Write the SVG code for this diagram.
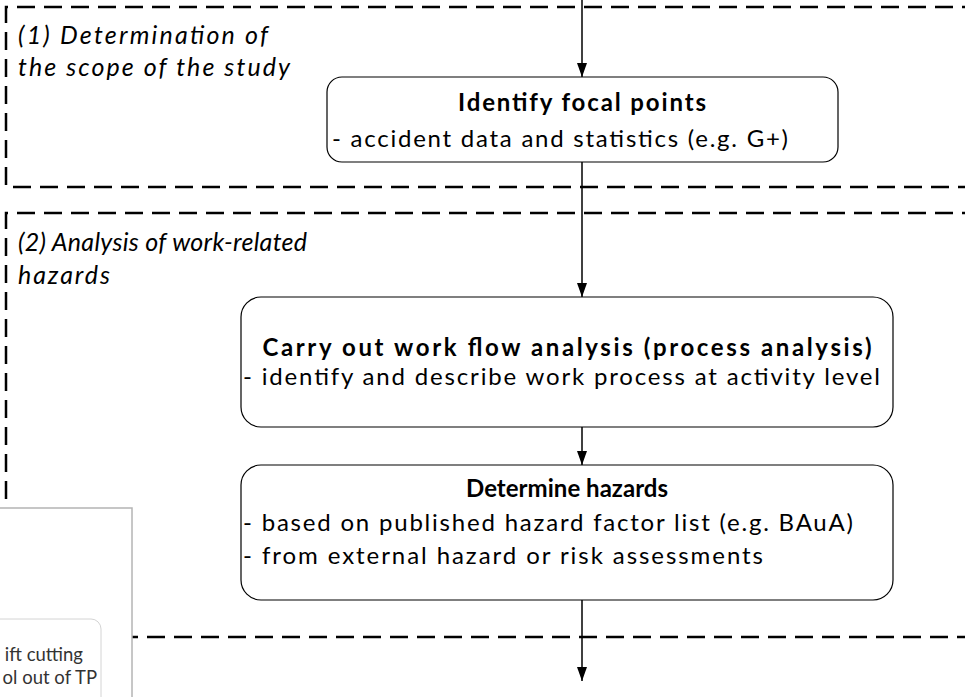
<svg xmlns="http://www.w3.org/2000/svg" width="965" height="697" viewBox="0 0 965 697">
<defs>
<style>
.sec{fill:none;stroke:#000;stroke-width:2.5;stroke-dasharray:18 9}
.box{fill:#fff;stroke:#000;stroke-width:1.2}
.con{fill:none;stroke:#000;stroke-width:1.5}
.lbl{font-family:Lato,"Liberation Sans",sans-serif;font-style:italic;font-size:25px;fill:#000}
.ttl{font-family:Lato,"Liberation Sans",sans-serif;font-weight:bold;font-size:24px;fill:#000}
.txt{font-family:Lato,"Liberation Sans",sans-serif;font-size:24px;fill:#000}
.ov{font-family:Lato,"Liberation Sans",sans-serif;font-size:18.5px;fill:#333}
</style>
<marker id="ah" viewBox="0 0 14 10" refX="14" refY="5" markerWidth="14" markerHeight="10" markerUnits="userSpaceOnUse" orient="auto">
<path d="M0,0 L14,5 L0,10 z" fill="#000"/>
</marker>
</defs>
<rect width="965" height="697" fill="#fff"/>
<g id="section1">
<path class="sec" d="M980,7 H6 V187 H980"/>
<text class="lbl" x="18" y="44" textLength="250">(1) Determination of</text>
<text class="lbl" x="18" y="76" textLength="272">the scope of the study</text>
</g>
<g id="section2">
<path class="sec" d="M980,213 H6 V637 H980"/>
<text class="lbl" x="18" y="251" textLength="289">(2) Analysis of work-related</text>
<text class="lbl" x="18" y="284" textLength="92">hazards</text>
</g>
<g id="connectors">
<line class="con" x1="582" y1="0" x2="582" y2="77" marker-end="url(#ah)"/>
<line class="con" x1="582" y1="162" x2="582" y2="297" marker-end="url(#ah)"/>
<line class="con" x1="582" y1="427" x2="582" y2="465" marker-end="url(#ah)"/>
<line class="con" x1="582" y1="600" x2="582" y2="681" marker-end="url(#ah)"/>
</g>
<g id="focal">
<rect class="box" x="327" y="77" width="511" height="85" rx="15"/>
<text class="ttl" x="582" y="111" text-anchor="middle" textLength="248">Identify focal points</text>
<text class="txt" x="332" y="147" textLength="456">- accident data and statistics (e.g. G+)</text>
</g>
<g id="workflow">
<rect class="box" x="241" y="297" width="652" height="130" rx="20"/>
<text class="ttl" x="567" y="356" text-anchor="middle" textLength="609">Carry out work flow analysis (process analysis)</text>
<text class="txt" x="243" y="385" textLength="637">- identify and describe work process at activity level</text>
</g>
<g id="hazards">
<rect class="box" x="241" y="465" width="652" height="135" rx="20"/>
<text class="ttl" x="567" y="497" text-anchor="middle" textLength="202">Determine hazards</text>
<text class="txt" x="243" y="531" textLength="610">- based on published hazard factor list (e.g. BAuA)</text>
<text class="txt" x="243" y="564" textLength="520">- from external hazard or risk assessments</text>
</g>
<g id="overlay">
<rect x="-2" y="508" width="134" height="200" fill="#fff" stroke="#b4b4b4" stroke-width="1.5"/>
<rect x="-60" y="619" width="161" height="100" rx="10" fill="#fff" stroke="#d4d4d4" stroke-width="1"/>
<text class="ov" x="83" y="661" text-anchor="end">ift cutting</text>
<text class="ov" x="97" y="684" text-anchor="end">ol out of TP</text>
</g>
</svg>
